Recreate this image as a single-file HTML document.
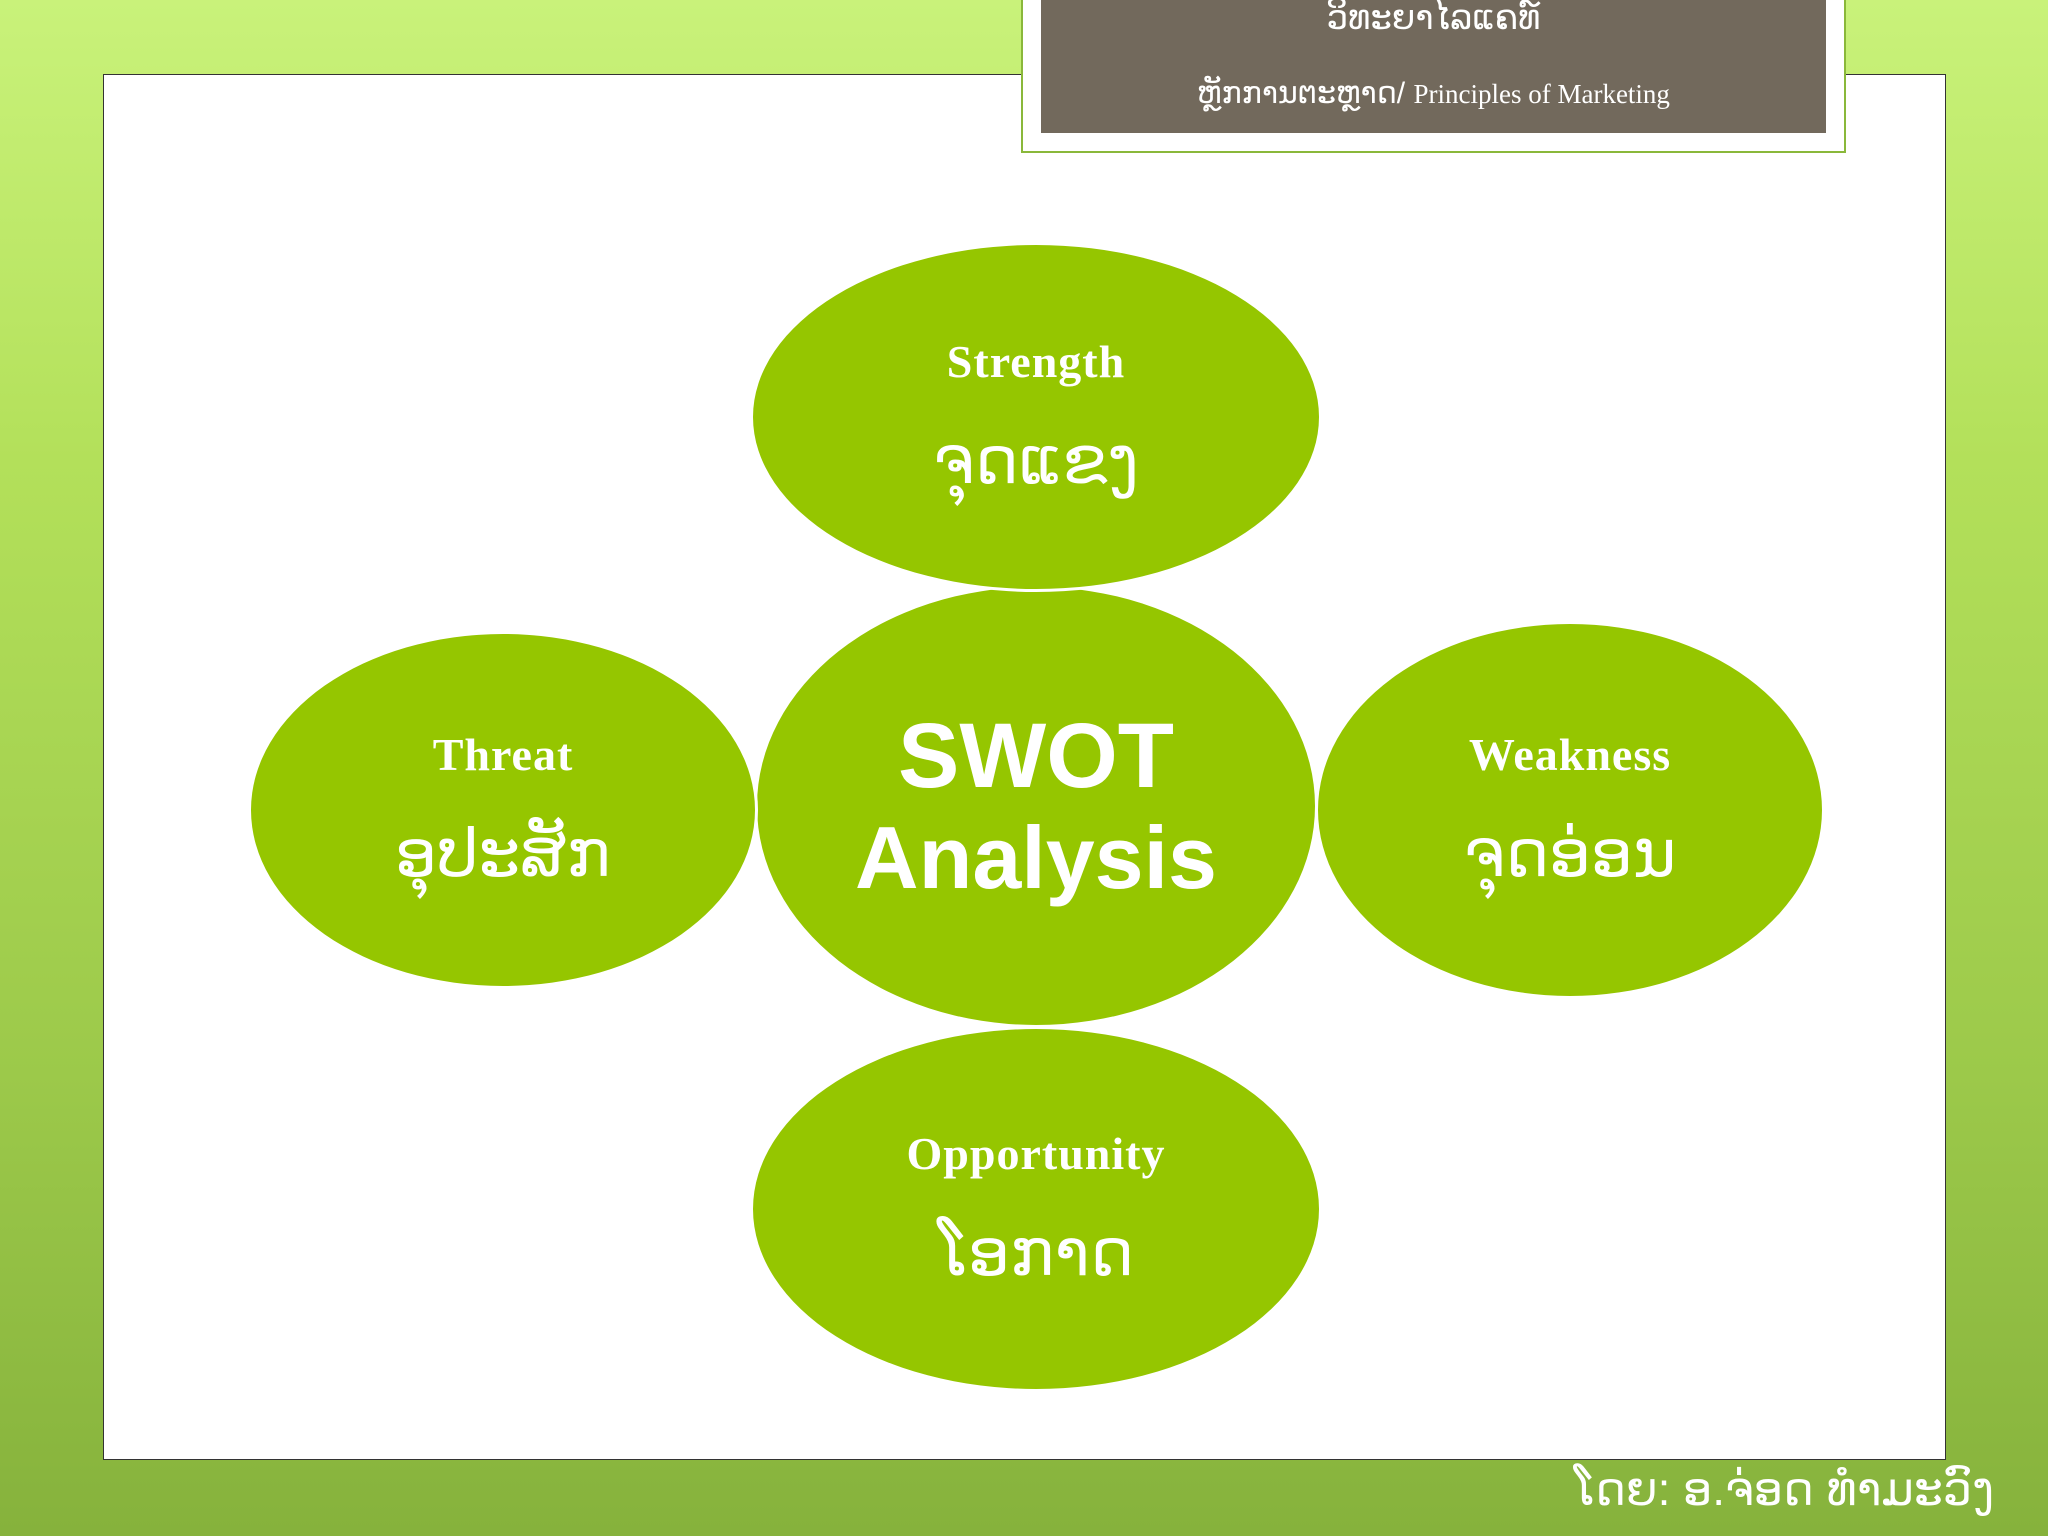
<!DOCTYPE html>
<html><head><meta charset="utf-8">
<style>
html,body{margin:0;padding:0}
body{width:2048px;height:1536px;position:relative;overflow:hidden;
background:linear-gradient(180deg,#c9f27a 0%,#b3e05a 30%,#9cc94a 70%,#86b23c 100%);
font-family:"Liberation Sans","DejaVu Sans",sans-serif}
.panel{position:absolute;left:103px;top:74px;width:1841px;height:1384px;background:#fff;border:1px solid #333}
.hdr{position:absolute;left:1021px;top:-4px;width:825px;height:157px;background:#fff;border:2px solid #8ab83a;box-sizing:border-box}
.hdr .in{position:absolute;left:18px;top:0;right:18px;bottom:18px;background:#72695c;color:#fff;text-align:center}
.e{position:absolute;border-radius:50%;background:#95c600;color:#fff;text-align:center;display:flex;flex-direction:column;justify-content:center;align-items:center;font-weight:bold;box-sizing:border-box}
.t1{font-size:46px;font-family:"Liberation Serif","DejaVu Serif",serif;letter-spacing:1px}
.t2{font-size:66px;margin-top:34px;font-weight:normal}
.foot{position:absolute;left:1574px;top:1462px;font-size:46px;color:#fff}
</style></head><body>
<div class="panel"></div>
<div class="hdr"><div class="in">
<div style="position:absolute;top:0;width:100%;font-size:34px;line-height:40px">ວິທະຍາໄລແຄທ໌</div>
<div style="position:absolute;top:78px;width:100%;font-size:30px">ຫຼັກການຕະຫຼາດ/ <span style="font-family:'Liberation Serif',serif;font-size:27px">Principles of Marketing</span></div>
</div></div>
<div class="e" style="left:754px;top:584px;width:564px;height:444px;border:3px solid #fff"><div style="font-size:92px;line-height:104px">SWOT</div><div style="font-size:88px;line-height:100px">Analysis</div></div>
<div class="e" style="left:750px;top:242px;width:572px;height:350px;border:3px solid #fff"><div class="t1">Strength</div><div class="t2">ຈຸດແຂງ</div></div>
<div class="e" style="left:248px;top:631px;width:510px;height:358px;border:3px solid #fff"><div class="t1">Threat</div><div class="t2">ອຸປະສັກ</div></div>
<div class="e" style="left:1315px;top:621px;width:510px;height:378px;border:3px solid #fff"><div class="t1">Weakness</div><div class="t2">ຈຸດອ່ອນ</div></div>
<div class="e" style="left:750px;top:1026px;width:572px;height:366px;border:3px solid #fff"><div class="t1">Opportunity</div><div class="t2">ໂອກາດ</div></div>
<div class="foot">ໂດຍ: ອ.ຈ່ອດ ທຳມະວົງ</div>
</body></html>
